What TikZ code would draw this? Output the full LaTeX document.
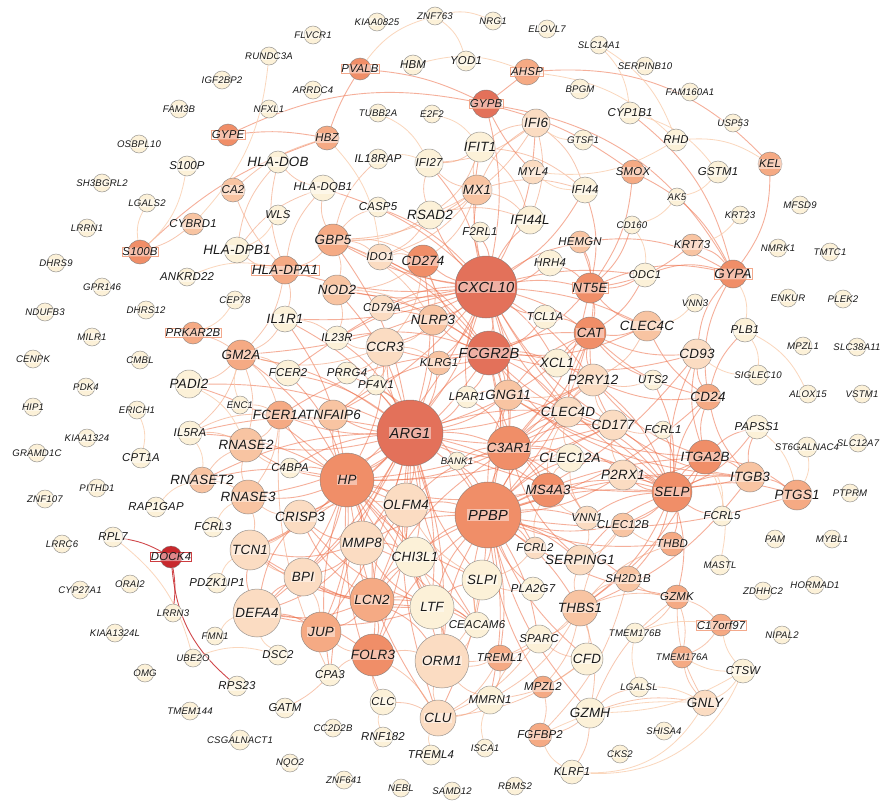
\documentclass[tikz,border=0pt]{standalone}
\usepackage{fontspec}
\newfontfamily\lblf[LetterSpace=2.0]{Liberation Sans}
\usetikzlibrary{backgrounds}
\pgfdeclarelayer{bg}
\pgfsetlayers{bg,main}
\definecolor{c0}{HTML}{FCF1D8}
\definecolor{c1}{HTML}{FBDCC2}
\definecolor{c2}{HTML}{F8C4A2}
\definecolor{c3}{HTML}{F5AA84}
\definecolor{c4}{HTML}{F08E68}
\definecolor{c5}{HTML}{E3715A}
\definecolor{cr}{HTML}{C8282C}
\definecolor{eOr}{HTML}{EE6E48}
\definecolor{eOr2}{HTML}{F3A07A}
\definecolor{eLt}{HTML}{FAD0B2}
\definecolor{bxc}{HTML}{F2A080}
\tikzset{
  gc/.style={circle,draw=black!55,line width=0.5pt,draw opacity=0.7,inner sep=0pt,outer sep=0pt},
  lb/.style={inner sep=0.6pt,fill=white,fill opacity=0.45,text opacity=1,draw opacity=0.9,text=black!90},
  fs/.style={font=\lblf\itshape\fontsize{9.6}{10}\selectfont},
  fm/.style={font=\lblf\itshape\fontsize{11.4}{12}\selectfont},
  fl/.style={font=\lblf\itshape\fontsize{13.4}{14}\selectfont},
  fx/.style={font=\lblf\itshape\fontsize{14.6}{15}\selectfont},
  bx/.style={draw=bxc,line width=0.5pt},
  rbx/.style={draw=cr,line width=0.6pt},
  eA/.style={draw=eOr,line width=0.9pt,opacity=0.55},
  eB/.style={draw=eOr2,line width=0.8pt,opacity=0.6},
  eC/.style={draw=eLt,line width=0.8pt,opacity=0.85},
  eR/.style={draw=cr,line width=0.9pt,opacity=0.85}
}
\newcommand\gncirc[7]{\node[gc,fill=#5,minimum size=#4pt] (#1) at (#2,#3) {};}
\newcommand\gnlab[7]{\node[lb,#6] (#1l) at (#1) {#7};}
\newcommand\nodedata{%
\gn{KIAA0825}{377}{22}{18}{c0}{fs}{KIAA0825}
\gn{ZNF763}{435}{16}{18}{c0}{fs}{ZNF763}
\gn{NRG1}{493}{21}{18}{c0}{fs}{NRG1}
\gn{ELOVL7}{547}{29}{18}{c0}{fs}{ELOVL7}
\gn{FLVCR1}{313}{35}{18}{c0}{fs}{FLVCR1}
\gn{SLC14A1}{599}{45}{18}{c0}{fs}{SLC14A1}
\gn{SERPINB10}{645}{66}{18}{c0}{fs}{SERPINB10}
\gn{RUNDC3A}{269}{56}{18}{c0}{fs}{RUNDC3A}
\gn{PVALB}{360}{69}{22}{c4}{fm,bx}{PVALB}
\gn{HBM}{413}{65}{20}{c0}{fm}{HBM}
\gn{YOD1}{466}{61}{20}{c0}{fm}{YOD1}
\gn{AHSP}{527}{72}{26}{c3}{fm,bx}{AHSP}
\gn{IGF2BP2}{222}{80}{18}{c0}{fs}{IGF2BP2}
\gn{ARRDC4}{313}{90}{18}{c0}{fs}{ARRDC4}
\gn{BPGM}{580}{89}{20}{c0}{fs}{BPGM}
\gn{FAM160A1}{690}{92}{18}{c0}{fs}{FAM160A1}
\gn{GYPB}{486}{104}{28}{c5}{fm,bx}{GYPB}
\gn{NFXL1}{269}{109}{18}{c0}{fs}{NFXL1}
\gn{FAM3B}{179}{109}{18}{c0}{fs}{FAM3B}
\gn{TUBB2A}{378}{113}{18}{c0}{fs}{TUBB2A}
\gn{E2F2}{432}{114}{18}{c0}{fs}{E2F2}
\gn{CYP1B1}{630}{113}{22}{c0}{fm}{CYP1B1}
\gn{IFI6}{536}{123}{28}{c1}{fl}{IFI6}
\gn{USP53}{733}{123}{18}{c0}{fs}{USP53}
\gn{GYPE}{228}{135}{22}{c4}{fm,bx}{GYPE}
\gn{HBZ}{327}{138}{24}{c3}{fm}{HBZ}
\gn{RHD}{676}{140}{22}{c0}{fm}{RHD}
\gn{GTSF1}{583}{140}{20}{c0}{fs}{GTSF1}
\gn{OSBPL10}{139}{144}{18}{c0}{fs}{OSBPL10}
\gn{IFIT1}{480}{147}{30}{c0}{fl}{IFIT1}
\gn{IL18RAP}{378}{159}{20}{c0}{fm}{IL18RAP}
\gn{HLADOB}{278}{162}{22}{c0}{fl}{HLA-DOB}
\gn{IFI27}{429}{163}{28}{c0}{fm}{IFI27}
\gn{KEL}{770}{164}{24}{c3}{fm}{KEL}
\gn{S100P}{187}{166}{20}{c0}{fm}{S100P}
\gn{MYL4}{533}{172}{24}{c1}{fm}{MYL4}
\gn{SMOX}{633}{172}{24}{c3}{fm}{SMOX}
\gn{GSTM1}{718}{172}{22}{c0}{fm}{GSTM1}
\gn{SH3BGRL2}{102}{183}{18}{c0}{fs}{SH3BGRL2}
\gn{HLADQB1}{323}{188}{26}{c0}{fm}{HLA-DQB1}
\gn{MX1}{477}{190}{30}{c2}{fl}{MX1}
\gn{IFI44}{585}{190}{26}{c0}{fm}{IFI44}
\gn{CA2}{233}{190}{24}{c2}{fm}{CA2}
\gn{AK5}{677}{197}{18}{c0}{fs}{AK5}
\gn{LGALS2}{147}{203}{18}{c0}{fs}{LGALS2}
\gn{MFSD9}{800}{205}{18}{c0}{fs}{MFSD9}
\gn{CASP5}{378}{207}{20}{c0}{fm}{CASP5}
\gn{RSAD2}{430}{215}{28}{c0}{fl}{RSAD2}
\gn{WLS}{278}{215}{20}{c0}{fm}{WLS}
\gn{KRT23}{740}{215}{18}{c0}{fs}{KRT23}
\gn{IFI44L}{530}{220}{28}{c0}{fl}{IFI44L}
\gn{CYBRD1}{193}{224}{22}{c2}{fm}{CYBRD1}
\gn{CD160}{632}{225}{18}{c0}{fs}{CD160}
\gn{LRRN1}{87}{228}{18}{c0}{fs}{LRRN1}
\gn{F2RL1}{480}{232}{20}{c0}{fm}{F2RL1}
\gn{GBP5}{333}{240}{32}{c3}{fl}{GBP5}
\gn{HEMGN}{580}{242}{22}{c2}{fm}{HEMGN}
\gn{KRT73}{692}{245}{22}{c2}{fm}{KRT73}
\gn{NMRK1}{778}{248}{18}{c0}{fs}{NMRK1}
\gn{HLADPB1}{237}{250}{26}{c0}{fl}{HLA-DPB1}
\gn{S100B}{140}{252}{24}{c4}{fm,bx}{S100B}
\gn{TMTC1}{830}{252}{18}{c0}{fs}{TMTC1}
\gn{IDO1}{380}{257}{26}{c1}{fm}{IDO1}
\gn{CD274}{423}{261}{32}{c4}{fl}{CD274}
\gn{HRH4}{550}{263}{26}{c0}{fm}{HRH4}
\gn{DHRS9}{56}{263}{18}{c0}{fs}{DHRS9}
\gn{HLADPA1}{285}{270}{28}{c3}{fl,bx}{HLA-DPA1}
\gn{GYPA}{733}{274}{28}{c4}{fl,bx}{GYPA}
\gn{ODC1}{645}{275}{24}{c0}{fm}{ODC1}
\gn{ANKRD22}{187}{277}{18}{c0}{fm}{ANKRD22}
\gn{CXCL10}{486}{287}{62}{c5}{fx}{CXCL10}
\gn{GPR146}{102}{287}{18}{c0}{fs}{GPR146}
\gn{NT5E}{590}{288}{30}{c4}{fl,bx}{NT5E}
\gn{NOD2}{337}{290}{30}{c2}{fl}{NOD2}
\gn{ENKUR}{788}{298}{18}{c0}{fs}{ENKUR}
\gn{PLEK2}{843}{299}{18}{c0}{fs}{PLEK2}
\gn{CEP78}{235}{300}{18}{c0}{fs}{CEP78}
\gn{VNN3}{695}{303}{18}{c0}{fs}{VNN3}
\gn{CD79A}{382}{308}{26}{c1}{fm}{CD79A}
\gn{DHRS12}{146}{310}{18}{c0}{fs}{DHRS12}
\gn{NDUFB3}{45}{312}{18}{c0}{fs}{NDUFB3}
\gn{TCL1A}{545}{317}{24}{c0}{fm}{TCL1A}
\gn{IL1R1}{285}{319}{26}{c0}{fl}{IL1R1}
\gn{NLRP3}{433}{320}{30}{c2}{fl}{NLRP3}
\gn{CLEC4C}{647}{326}{30}{c2}{fl}{CLEC4C}
\gn{PLB1}{745}{330}{24}{c0}{fm}{PLB1}
\gn{CAT}{590}{333}{32}{c4}{fl}{CAT}
\gn{PRKAR2B}{193}{333}{22}{c3}{fm,bx}{PRKAR2B}
\gn{MILR1}{92}{337}{18}{c0}{fs}{MILR1}
\gn{IL23R}{337}{338}{24}{c0}{fm}{IL23R}
\gn{MPZL1}{803}{346}{18}{c0}{fs}{MPZL1}
\gn{SLC38A11}{857}{347}{18}{c0}{fs}{SLC38A11}
\gn{CCR3}{385}{347}{38}{c1}{fl}{CCR3}
\gn{FCGR2B}{489}{353}{44}{c5}{fx}{FCGR2B}
\gn{CD93}{697}{354}{30}{c1}{fl}{CD93}
\gn{GM2A}{241}{355}{30}{c3}{fl}{GM2A}
\gn{CENPK}{33}{359}{18}{c0}{fs}{CENPK}
\gn{CMBL}{140}{360}{18}{c0}{fs}{CMBL}
\gn{KLRG1}{439}{363}{24}{c2}{fm}{KLRG1}
\gn{XCL1}{557}{363}{28}{c0}{fl}{XCL1}
\gn{FCER2}{288}{373}{26}{c0}{fm}{FCER2}
\gn{PRRG4}{347}{373}{22}{c0}{fm}{PRRG4}
\gn{SIGLEC10}{758}{375}{20}{c0}{fs}{SIGLEC10}
\gn{UTS2}{653}{380}{20}{c0}{fm}{UTS2}
\gn{P2RY12}{593}{380}{32}{c1}{fl}{P2RY12}
\gn{PADI2}{189}{384}{28}{c0}{fl}{PADI2}
\gn{PF4V1}{376}{385}{20}{c0}{fm}{PF4V1}
\gn{PDK4}{86}{387}{18}{c0}{fs}{PDK4}
\gn{ALOX15}{808}{394}{18}{c0}{fs}{ALOX15}
\gn{VSTM1}{862}{394}{18}{c0}{fs}{VSTM1}
\gn{GNG11}{508}{395}{30}{c2}{fl}{GNG11}
\gn{LPAR1}{467}{397}{22}{c0}{fm}{LPAR1}
\gn{CD24}{708}{397}{26}{c3}{fl}{CD24}
\gn{ENC1}{240}{405}{18}{c0}{fs}{ENC1}
\gn{HIP1}{33}{407}{18}{c0}{fs}{HIP1}
\gn{ERICH1}{137}{410}{18}{c0}{fs}{ERICH1}
\gn{CLEC4D}{568}{412}{30}{c1}{fl}{CLEC4D}
\gn{FCER1A}{280}{415}{28}{c3}{fl}{FCER1A}
\gn{TNFAIP6}{333}{415}{30}{c2}{fl}{TNFAIP6}
\gn{CD177}{613}{425}{30}{c1}{fl}{CD177}
\gn{PAPSS1}{757}{427}{24}{c0}{fm}{PAPSS1}
\gn{FCRL1}{663}{430}{18}{c0}{fm}{FCRL1}
\gn{ARG1}{410}{433}{66}{c5}{fx}{ARG1}
\gn{IL5RA}{190}{433}{24}{c0}{fm}{IL5RA}
\gn{KIAA1324}{87}{438}{18}{c0}{fs}{KIAA1324}
\gn{SLC12A7}{858}{443}{18}{c0}{fs}{SLC12A7}
\gn{RNASE2}{246}{445}{34}{c2}{fl}{RNASE2}
\gn{ST6GALNAC4}{807}{447}{20}{c0}{fs}{ST6GALNAC4}
\gn{C3AR1}{509}{448}{44}{c4}{fl}{C3AR1}
\gn{GRAMD1C}{37}{453}{18}{c0}{fs}{GRAMD1C}
\gn{ITGA2B}{705}{457}{34}{c4}{fl}{ITGA2B}
\gn{CPT1A}{141}{458}{20}{c0}{fm}{CPT1A}
\gn{CLEC12A}{570}{458}{28}{c0}{fl}{CLEC12A}
\gn{BANK1}{457}{461}{18}{c0}{fs}{BANK1}
\gn{C4BPA}{290}{468}{20}{c0}{fm}{C4BPA}
\gn{P2RX1}{623}{475}{30}{c1}{fl}{P2RX1}
\gn{ITGB3}{750}{477}{30}{c2}{fl}{ITGB3}
\gn{RNASET2}{202}{480}{26}{c2}{fl}{RNASET2}
\gn{HP}{347}{480}{54}{c4}{fl}{HP}
\gn{PITHD1}{97}{488}{18}{c0}{fs}{PITHD1}
\gn{MS4A3}{548}{490}{34}{c4}{fl}{MS4A3}
\gn{SELP}{672}{492}{40}{c4}{fl}{SELP}
\gn{PTPRM}{850}{493}{18}{c0}{fs}{PTPRM}
\gn{PTGS1}{797}{495}{30}{c3}{fl}{PTGS1}
\gn{RNASE3}{248}{497}{34}{c2}{fl}{RNASE3}
\gn{ZNF107}{45}{499}{18}{c0}{fs}{ZNF107}
\gn{OLFM4}{406}{505}{44}{c1}{fl}{OLFM4}
\gn{RAP1GAP}{156}{507}{20}{c0}{fm}{RAP1GAP}
\gn{PPBP}{488}{515}{66}{c4}{fx}{PPBP}
\gn{FCRL5}{722}{516}{20}{c0}{fm}{FCRL5}
\gn{CRISP3}{300}{517}{34}{c1}{fl}{CRISP3}
\gn{VNN1}{587}{518}{24}{c1}{fm}{VNN1}
\gn{CLEC12B}{623}{525}{24}{c2}{fm}{CLEC12B}
\gn{FCRL3}{213}{527}{20}{c0}{fm}{FCRL3}
\gn{RPL7}{113}{537}{20}{c0}{fm}{RPL7}
\gn{PAM}{775}{539}{18}{c0}{fs}{PAM}
\gn{MYBL1}{832}{539}{18}{c0}{fs}{MYBL1}
\gn{MMP8}{362}{543}{44}{c1}{fl}{MMP8}
\gn{LRRC6}{62}{544}{18}{c0}{fs}{LRRC6}
\gn{THBD}{672}{544}{24}{c3}{fm}{THBD}
\gn{FCRL2}{535}{548}{22}{c1}{fm}{FCRL2}
\gn{TCN1}{250}{550}{40}{c1}{fl}{TCN1}
\gn{CHI3L1}{415}{557}{40}{c0}{fl}{CHI3L1}
\gn{DOCK4}{171}{557}{22}{cr}{fm,rbx}{DOCK4}
\gn{SERPING1}{580}{560}{30}{c1}{fl}{SERPING1}
\gn{MASTL}{720}{565}{20}{c0}{fs}{MASTL}
\gn{BPI}{303}{577}{38}{c1}{fl}{BPI}
\gn{SH2D1B}{628}{579}{26}{c2}{fm}{SH2D1B}
\gn{SLPI}{482}{580}{40}{c0}{fl}{SLPI}
\gn{PDZK1IP1}{217}{583}{20}{c0}{fm}{PDZK1IP1}
\gn{ORAI2}{130}{584}{18}{c0}{fs}{ORAI2}
\gn{HORMAD1}{815}{585}{18}{c0}{fs}{HORMAD1}
\gn{PLA2G7}{533}{589}{24}{c0}{fm}{PLA2G7}
\gn{CYP27A1}{80}{590}{18}{c0}{fs}{CYP27A1}
\gn{ZDHHC2}{763}{591}{18}{c0}{fs}{ZDHHC2}
\gn{GZMK}{677}{597}{24}{c3}{fm}{GZMK}
\gn{LCN2}{372}{600}{44}{c3}{fl}{LCN2}
\gn{LTF}{432}{607}{44}{c0}{fl}{LTF}
\gn{THBS1}{580}{608}{36}{c2}{fl}{THBS1}
\gn{DEFA4}{257}{613}{48}{c1}{fl}{DEFA4}
\gn{LRRN3}{173}{613}{18}{c0}{fs}{LRRN3}
\gn{C17orf97}{721}{625}{22}{c3}{fm,bx}{C17orf97}
\gn{CEACAM6}{477}{625}{26}{c0}{fm}{CEACAM6}
\gn{JUP}{321}{632}{40}{c3}{fl}{JUP}
\gn{KIAA1324L}{115}{633}{18}{c0}{fs}{KIAA1324L}
\gn{TMEM176B}{635}{633}{20}{c0}{fs}{TMEM176B}
\gn{NIPAL2}{782}{635}{18}{c0}{fs}{NIPAL2}
\gn{FMN1}{215}{636}{18}{c0}{fs}{FMN1}
\gn{SPARC}{539}{639}{28}{c0}{fm}{SPARC}
\gn{DSC2}{278}{655}{20}{c0}{fm}{DSC2}
\gn{FOLR3}{373}{655}{42}{c4}{fl}{FOLR3}
\gn{TMEM176A}{682}{657}{22}{c3}{fs}{TMEM176A}
\gn{UBE2O}{193}{658}{18}{c0}{fs}{UBE2O}
\gn{TREML1}{500}{658}{26}{c3}{fm}{TREML1}
\gn{CFD}{587}{659}{32}{c0}{fl}{CFD}
\gn{ORM1}{442}{661}{54}{c1}{fl}{ORM1}
\gn{CTSW}{743}{671}{24}{c0}{fm}{CTSW}
\gn{OMG}{145}{673}{18}{c0}{fs}{OMG}
\gn{CPA3}{330}{675}{22}{c0}{fm}{CPA3}
\gn{RPS23}{237}{686}{20}{c0}{fm}{RPS23}
\gn{MPZL2}{543}{687}{22}{c3}{fm}{MPZL2}
\gn{LGALSL}{639}{687}{20}{c0}{fs}{LGALSL}
\gn{MMRN1}{490}{700}{28}{c0}{fm}{MMRN1}
\gn{CLC}{383}{702}{26}{c0}{fm}{CLC}
\gn{GNLY}{705}{703}{26}{c1}{fl}{GNLY}
\gn{GATM}{285}{708}{20}{c0}{fm}{GATM}
\gn{TMEM144}{190}{711}{18}{c0}{fs}{TMEM144}
\gn{GZMH}{590}{713}{30}{c0}{fl}{GZMH}
\gn{CLU}{438}{718}{36}{c1}{fl}{CLU}
\gn{CC2D2B}{333}{728}{18}{c0}{fs}{CC2D2B}
\gn{SHISA4}{664}{731}{18}{c0}{fs}{SHISA4}
\gn{FGFBP2}{540}{735}{24}{c3}{fm}{FGFBP2}
\gn{RNF182}{383}{737}{20}{c0}{fm}{RNF182}
\gn{CSGALNACT1}{240}{740}{20}{c0}{fs}{CSGALNACT1}
\gn{ISCA1}{485}{748}{18}{c0}{fs}{ISCA1}
\gn{CKS2}{620}{754}{18}{c0}{fs}{CKS2}
\gn{TREML4}{431}{755}{20}{c0}{fm}{TREML4}
\gn{NQO2}{290}{763}{18}{c0}{fs}{NQO2}
\gn{KLRF1}{572}{772}{24}{c0}{fm}{KLRF1}
\gn{ZNF641}{344}{780}{18}{c0}{fs}{ZNF641}
\gn{RBMS2}{515}{786}{18}{c0}{fs}{RBMS2}
\gn{NEBL}{401}{788}{18}{c0}{fs}{NEBL}
\gn{SAMD12}{452}{791}{18}{c0}{fs}{SAMD12}
}
\begin{document}
\begin{tikzpicture}[x=1pt,y=-1pt]
\useasboundingbox (0,0) rectangle (893,800);
\let\gn\gncirc
\nodedata
\begin{pgfonlayer}{bg}
\fill[white] (0,0) rectangle (893,800);
% hub CXCL10
\foreach \a/\b in {CXCL10/GBP5,CXCL10/IDO1,CXCL10/CD274,CXCL10/RSAD2,CXCL10/MX1,CXCL10/IFIT1,CXCL10/IFI44L,CXCL10/NOD2,CXCL10/NLRP3,CXCL10/FCGR2B,CXCL10/CCR3,CXCL10/NT5E,CXCL10/CAT,CXCL10/ARG1,CXCL10/C3AR1,CXCL10/GNG11,CXCL10/KLRG1,CXCL10/XCL1,CXCL10/HLADPA1,CXCL10/GM2A,CXCL10/IL1R1,CXCL10/CLEC4C,CXCL10/ODC1,CXCL10/HEMGN,CXCL10/P2RY12,CXCL10/TNFAIP6,CXCL10/PPBP,CXCL10/HP}
  \draw[eA] (\a) to[bend left=10] (\b);
\foreach \a/\b in {CXCL10/IFI6,CXCL10/IFI27,CXCL10/IFI44,CXCL10/HRH4,CXCL10/CD79A,CXCL10/TCL1A,CXCL10/IL23R,CXCL10/HLADQB1,CXCL10/CASP5,CXCL10/F2RL1,CXCL10/LPAR1,CXCL10/CD177,CXCL10/SELP,CXCL10/GYPB,CXCL10/CLEC4D,CXCL10/FCER2}
  \draw[eA] (\a) to[bend right=12] (\b);
% hub ARG1
\foreach \a/\b in {ARG1/HP,ARG1/OLFM4,ARG1/MMP8,ARG1/CHI3L1,ARG1/LCN2,ARG1/LTF,ARG1/BPI,ARG1/CRISP3,ARG1/TCN1,ARG1/DEFA4,ARG1/ORM1,ARG1/JUP,ARG1/FOLR3,ARG1/RNASE2,ARG1/RNASE3,ARG1/FCER1A,ARG1/TNFAIP6,ARG1/CCR3,ARG1/C3AR1,ARG1/MS4A3,ARG1/PPBP,ARG1/CLEC4D,ARG1/FCGR2B}
  \draw[eA] (\a) to[bend left=10] (\b);
\foreach \a/\b in {ARG1/GNG11,ARG1/LPAR1,ARG1/IL1R1,ARG1/GM2A,ARG1/IL5RA,ARG1/CD177,ARG1/SLPI,ARG1/CLU,ARG1/CLEC12A,ARG1/CAT,ARG1/NLRP3,ARG1/KLRG1,ARG1/NOD2,ARG1/RNASET2,ARG1/PADI2,ARG1/FCER2,ARG1/C4BPA,ARG1/CEACAM6,ARG1/CPA3,ARG1/CD274,ARG1/GBP5,ARG1/PF4V1,ARG1/PRRG4,ARG1/IL23R,ARG1/SELP,ARG1/P2RY12}
  \draw[eA] (\a) to[bend right=12] (\b);
% hub PPBP
\foreach \a/\b in {PPBP/SELP,PPBP/ITGA2B,PPBP/ITGB3,PPBP/GNG11,PPBP/P2RY12,PPBP/CLEC4D,PPBP/CLEC12A,PPBP/VNN1,PPBP/SERPING1,PPBP/THBS1,PPBP/TREML1,PPBP/SPARC,PPBP/MMRN1,PPBP/CLU,PPBP/CD177,PPBP/MS4A3,PPBP/C3AR1,PPBP/HP,PPBP/FCRL2,PPBP/SLPI,PPBP/SH2D1B}
  \draw[eA] (\a) to[bend left=10] (\b);
\foreach \a/\b in {PPBP/PTGS1,PPBP/CLEC12B,PPBP/P2RX1,PPBP/CFD,PPBP/PLA2G7,PPBP/ORM1,PPBP/LTF,PPBP/CHI3L1,PPBP/OLFM4,PPBP/MPZL2,PPBP/CD24,PPBP/CD93,PPBP/CAT,PPBP/FOLR3,PPBP/LCN2,PPBP/MMP8,PPBP/BANK1,PPBP/GZMH,PPBP/THBD,PPBP/GZMK,PPBP/FCGR2B,PPBP/PF4V1,PPBP/CEACAM6}
  \draw[eA] (\a) to[bend right=12] (\b);
% hub FCGR2B
\foreach \a/\b in {FCGR2B/CCR3,FCGR2B/KLRG1,FCGR2B/NLRP3,FCGR2B/CD274,FCGR2B/GNG11,FCGR2B/XCL1,FCGR2B/CAT,FCGR2B/P2RY12,FCGR2B/C3AR1,FCGR2B/HP,FCGR2B/CLEC4D,FCGR2B/LPAR1}
  \draw[eA] (\a) to[bend left=12] (\b);
\foreach \a/\b in {FCGR2B/CD79A,FCGR2B/TCL1A,FCGR2B/NT5E,FCGR2B/IDO1,FCGR2B/GBP5,FCGR2B/NOD2,FCGR2B/MS4A3,FCGR2B/CD177,FCGR2B/FCER1A,FCGR2B/TNFAIP6,FCGR2B/CLEC4C,FCGR2B/CD93,FCGR2B/SELP,FCGR2B/IL23R}
  \draw[eA] (\a) to[bend right=14] (\b);
% hub HP
\foreach \a/\b in {HP/OLFM4,HP/MMP8,HP/CHI3L1,HP/LCN2,HP/LTF,HP/BPI,HP/CRISP3,HP/TCN1,HP/DEFA4,HP/JUP,HP/FOLR3,HP/ORM1,HP/RNASE2,HP/RNASE3,HP/FCER1A,HP/TNFAIP6}
  \draw[eA] (\a) to[bend left=12] (\b);
\foreach \a/\b in {HP/CCR3,HP/GM2A,HP/IL5RA,HP/RNASET2,HP/CEACAM6,HP/CLU,HP/C4BPA,HP/PADI2,HP/FCER2,HP/IL1R1,HP/CPA3,HP/CLC,HP/MS4A3,HP/C3AR1,HP/SLPI,HP/CD177,HP/CLEC4D}
  \draw[eA] (\a) to[bend right=12] (\b);
% medium
\foreach \a/\b in {C3AR1/MS4A3,C3AR1/CLEC4D,C3AR1/CLEC12A,C3AR1/CD177,C3AR1/GNG11,C3AR1/P2RY12,C3AR1/SELP,C3AR1/VNN1,SELP/ITGA2B,SELP/ITGB3,SELP/PTGS1,SELP/P2RX1,SELP/CD24,SELP/CLEC12B,SELP/THBD,SELP/SH2D1B,SELP/GZMK,SELP/THBS1,SELP/CD93,ITGA2B/ITGB3,ITGA2B/PTGS1,ITGA2B/CD24,ITGA2B/P2RX1,ITGA2B/GNG11,ITGA2B/CD93,ITGA2B/PAPSS1,ITGA2B/THBS1,ITGA2B/P2RY12,ITGA2B/CLEC12B,ITGB3/PTGS1,ITGB3/CD24,ITGB3/PAPSS1,ITGB3/THBS1,ITGB3/GNG11,ITGB3/P2RX1,ITGB3/CD177,CD24/CD93,CD24/PLB1,CD24/CAT,CD24/CLEC4C,CD24/P2RY12}
  \draw[eA] (\a) to[bend left=14] (\b);
\foreach \a/\b in {C3AR1/SERPING1,C3AR1/FCRL2,C3AR1/CAT,C3AR1/NT5E,C3AR1/OLFM4,C3AR1/LCN2,C3AR1/LPAR1,C3AR1/BANK1,SELP/PAPSS1,SELP/FCRL1,SELP/CD177,SELP/CLEC4D,SELP/GNG11,SELP/SERPING1,SELP/MS4A3,SELP/UTS2,SELP/P2RY12,SELP/CLEC12A,SELP/FCRL5,SELP/VNN1,CAT/NT5E,CAT/CLEC4C,CAT/ODC1,CAT/CD93,CAT/P2RY12,CAT/UTS2,CAT/GNG11,CAT/XCL1,CAT/HEMGN,CAT/TCL1A,CAT/CD177,CAT/CLEC4D,NT5E/HEMGN,NT5E/HRH4,NT5E/ODC1,NT5E/CLEC4C,NT5E/KRT73,NT5E/CD160,NT5E/SMOX,NT5E/IFI44}
  \draw[eA] (\a) to[bend right=14] (\b);
\foreach \a/\b in {GYPA/KEL,GYPA/CYP1B1,GYPA/HEMGN,GYPA/ODC1,GYPA/KRT73,GYPA/CD93,GYPA/CD24,GYPA/SMOX,GYPA/NT5E}
  \draw[eA] (\a) to[bend right=18] (\b);
% interferon and immune
\foreach \a/\b in {MX1/IFIT1,MX1/IFI6,MX1/IFI27,MX1/IFI44,MX1/IFI44L,MX1/RSAD2,MX1/GBP5,MX1/CD274,MX1/IDO1,IFIT1/IFI6,IFIT1/IFI27,IFIT1/IFI44,IFIT1/RSAD2,IFIT1/IFI44L,IFI6/IFI27,IFI6/IFI44,IFI6/RSAD2,IFI6/IFI44L,RSAD2/IFI44L,RSAD2/GBP5,RSAD2/IDO1,RSAD2/IFI27,GBP5/IDO1,GBP5/CD274,GBP5/HLADQB1,GBP5/HLADPA1,GBP5/NOD2,GBP5/CASP5,GBP5/IL18RAP,GBP5/NLRP3,IDO1/CD274,CD274/NLRP3,CD274/NOD2,CD274/CCR3,HLADPA1/HLADPB1,HLADPA1/HLADQB1,HLADPA1/HLADOB,HLADPA1/GM2A,HLADPA1/IL1R1,HLADPB1/HLADQB1,HLADPB1/HLADOB,HLADQB1/HLADOB,NOD2/NLRP3,NOD2/IL23R,NLRP3/CCR3,CCR3/IL23R,CCR3/PRRG4,CCR3/PF4V1,CCR3/KLRG1,CCR3/TNFAIP6,CCR3/GM2A,IL1R1/IL23R,IL1R1/GM2A,GM2A/PADI2,GM2A/FCER2,GM2A/RNASE2,GM2A/IL5RA,GM2A/FCER1A}
  \draw[eB] (\a) to[bend left=16] (\b);
\foreach \a/\b in {GNG11/P2RY12,GNG11/LPAR1,GNG11/CLEC4D,P2RY12/CLEC4D,P2RY12/CD177,P2RY12/UTS2,P2RY12/CLEC4C,CLEC4D/CD177,CLEC4D/CLEC12A,CLEC4D/MS4A3,CD177/P2RX1,CD177/FCRL1,CLEC12A/MS4A3,CLEC12A/VNN1,MS4A3/VNN1,MS4A3/FCRL2,SERPING1/VNN1,SERPING1/THBS1,SERPING1/CLEC12B,CLEC12B/THBD,SH2D1B/THBS1}
  \draw[eB] (\a) to[bend right=16] (\b);
% granule cluster
\foreach \a/\b in {LCN2/LTF,LCN2/MMP8,LCN2/CHI3L1,LCN2/BPI,LCN2/CEACAM6,LCN2/OLFM4,LCN2/ORM1,LCN2/DEFA4,LCN2/CRISP3,LCN2/TCN1,LCN2/JUP,LCN2/FOLR3,LTF/MMP8,LTF/CHI3L1,LTF/BPI,LTF/CEACAM6,LTF/OLFM4,LTF/ORM1,LTF/DEFA4,LTF/CRISP3,LTF/TCN1,LTF/SLPI,MMP8/CHI3L1,MMP8/BPI,MMP8/CEACAM6,MMP8/OLFM4,MMP8/DEFA4,MMP8/CRISP3,MMP8/TCN1,DEFA4/BPI,DEFA4/CRISP3,DEFA4/TCN1,DEFA4/JUP,DEFA4/FOLR3}
  \draw[eA] (\a) to[bend left=14] (\b);
\foreach \a/\b in {ORM1/CLU,ORM1/FOLR3,ORM1/CHI3L1,ORM1/SLPI,ORM1/CEACAM6,ORM1/MMRN1,ORM1/TREML1,ORM1/SPARC,CLU/MMRN1,CLU/CLC,CLU/SPARC,CLU/TREML1,CLU/CFD,CLU/FOLR3,TCN1/BPI,TCN1/CRISP3,TCN1/RNASE3,RNASE2/RNASE3,RNASE2/RNASET2,RNASE2/FCER1A,RNASE2/IL5RA,RNASE2/C4BPA,RNASE3/RNASET2,RNASE3/FCER1A,RNASE3/CRISP3,FCER1A/TNFAIP6,FCER1A/IL5RA,FCER1A/ENC1,FCER1A/CPA3,OLFM4/CHI3L1,OLFM4/SLPI,OLFM4/CRISP3,JUP/FOLR3,JUP/BPI,FOLR3/CPA3,FOLR3/CLC,SLPI/CEACAM6,SLPI/PLA2G7,SLPI/FCRL2}
  \draw[eB] (\a) to[bend right=14] (\b);
% lower right
\foreach \a/\b in {THBS1/SPARC,THBS1/MMRN1,THBS1/TREML1,THBS1/CFD,THBS1/GZMK,THBS1/GZMH,THBS1/THBD,THBS1/CLEC12B,THBS1/MPZL2,GZMH/GNLY,GZMH/FGFBP2,GZMH/KLRF1,GZMH/GZMK,GZMH/LGALSL,GNLY/GZMK,GNLY/TMEM176A,GZMK/TMEM176A,GZMK/C17orf97,GZMK/TMEM176B,GZMK/SH2D1B,C17orf97/TMEM176A,SH2D1B/FGFBP2,MPZL2/FGFBP2,CFD/MMRN1,CFD/SPARC,TREML1/MMRN1,MMRN1/SPARC}
  \draw[eB] (\a) to[bend left=14] (\b);
\foreach \a/\b in {GZMH/CTSW,GNLY/CTSW,GNLY/LGALSL,GNLY/FGFBP2,C17orf97/TMEM176B,C17orf97/CTSW,TMEM176A/CTSW,TMEM176B/LGALSL}
  \draw[eC] (\a) to[bend right=14] (\b);
\draw[eC] (CTSW) to[bend left=35] (KLRF1);
\draw[eC] (GNLY) to[bend left=30] (KLRF1);
% periphery
\draw[eA] (GYPE) to[bend left=18] (GYPB);
\draw[eA] (GYPE) to[bend left=8] (HBZ);
\draw[eA] (PVALB) to[bend right=6] (HBZ);
\draw[eA] (PVALB) to[bend left=10] (GYPB);
\draw[eA] (GYPB) to (AHSP);
\draw[eA] (AHSP) to[bend left=25] (KEL);
\draw[eA] (GYPB) to[bend right=8] (MYL4);
\draw[eA] (GYPB) to[bend left=25] (GYPA);
\draw[eA] (GYPB) to[bend left=10] (SMOX);
\draw[eA] (S100B) to[bend left=12] (HBZ);
\draw[eB] (S100B) to[bend right=10] (CYBRD1);
\draw[eB] (CA2) to[bend left=12] (HBZ);
\draw[eB] (CA2) to[bend right=10] (HLADPA1);
\draw[eB] (PRKAR2B) to[bend left=10] (GM2A);
\draw[eB] (CPA3) to[bend left=8] (GATM);
\foreach \a/\b in {PVALB/ZNF763,ZNF763/NRG1,ZNF763/YOD1,HBM/AHSP,AHSP/RHD,CYP1B1/GSTM1,SLC14A1/RHD,SLC14A1/CYP1B1,RHD/KEL,RHD/MYL4,GSTM1/AK5,KRT23/KRT73,S100B/LGALS2,RUNDC3A/CYBRD1,S100P/S100B,ANKRD22/HLADPA1,CEP78/PRKAR2B,WLS/HLADPB1,ERICH1/CPT1A,RAP1GAP/RNASET2,RPL7/UBE2O,FMN1/DEFA4,UBE2O/DSC2,DSC2/DEFA4,PLB1/SIGLEC10,PLB1/ALOX15,SIGLEC10/CD93,PAPSS1/PTGS1,ST6GALNAC4/PTGS1,ITGA2B/MASTL,ITGA2B/FCRL5,HBZ/IDO1,IL18RAP/IFI27,TUBB2A/IFI27,E2F2/IFIT1,GTSF1/IFI6,IFI44/MYL4,CD160/ODC1,VNN3/CLEC4C,AK5/CD160,PDZK1IP1/TCN1,FCRL3/RNASE3,ENC1/GM2A,IL5RA/RNASET2,PADI2/RNASE2,TREML4/CLU,RNF182/CLC,ISCA1/MMRN1,KLRF1/FGFBP2,GYPA/PLB1}
  \draw[eC] (\a) to[bend left=18] (\b);
\draw[eR] (DOCK4) to[bend right=10] (RPL7);
\draw[eR] (DOCK4) to[bend left=8] (LRRN3);
\draw[eR] (DOCK4) to[bend right=22] (RPS23);
\end{pgfonlayer}
\let\gn\gnlab
\nodedata
\end{tikzpicture}
\end{document}
